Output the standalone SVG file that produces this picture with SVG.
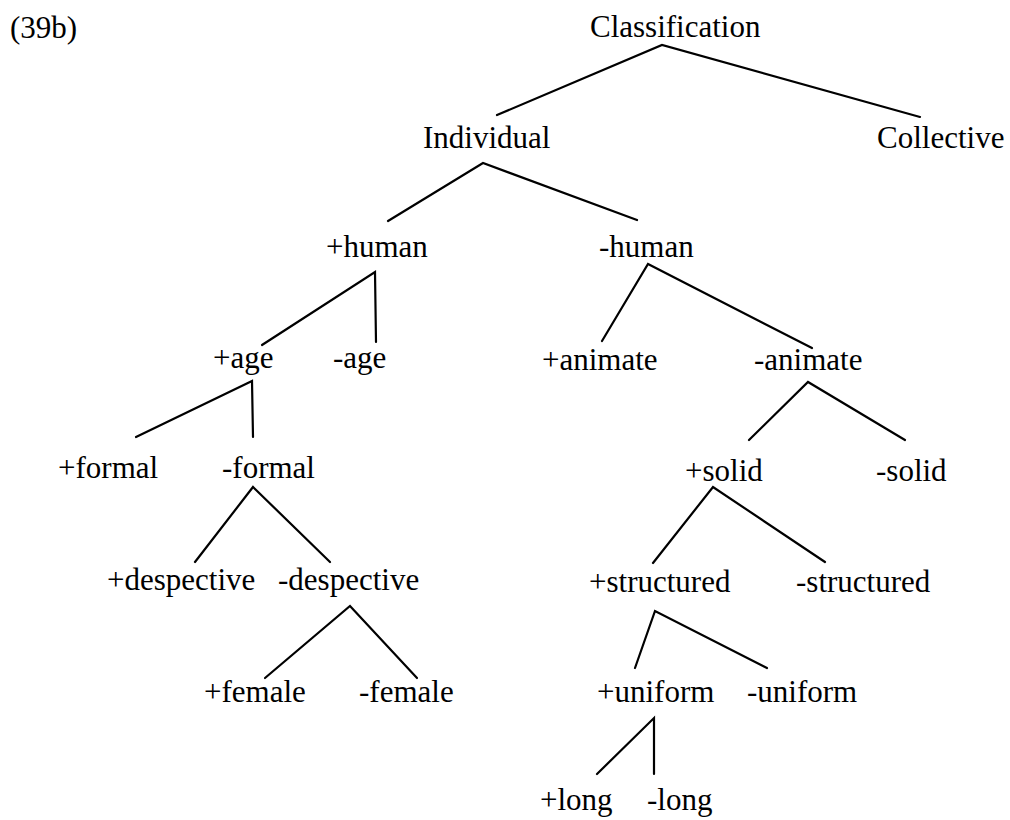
<svg xmlns="http://www.w3.org/2000/svg" width="1010" height="820" viewBox="0 0 1010 820">
  <style>
    .edge { stroke: #000; stroke-width: 2.2; stroke-linecap: round; fill: none; }
  </style>
  <rect width="1010" height="820" fill="#fff"/>

  <g font-family="'Liberation Serif', 'DejaVu Serif', serif" font-size="31" fill="#000">
  <text id="label" x="10" y="38">(39b)</text>

  <g id="connectors">
    <!-- Classification -->
    <path class="edge" d="M497,115 L662,45 L920,117"/>
    <!-- Individual -->
    <path class="edge" d="M388,221 L483,163 L637,220"/>
    <!-- +human -->
    <path class="edge" d="M262,345 L375,272 L376,342"/>
    <!-- +age -->
    <path class="edge" d="M136,437 L252,381 L253,437"/>
    <!-- -formal -->
    <path class="edge" d="M195,562 L253,487 L330,562"/>
    <!-- -despective -->
    <path class="edge" d="M265,678 L350,606 L417,678"/>
    <!-- -human -->
    <path class="edge" d="M602,341 L648,264 L812,348"/>
    <!-- -animate -->
    <path class="edge" d="M749,440 L808,382 L905,440"/>
    <!-- +solid -->
    <path class="edge" d="M653,563 L713,487 L825,562"/>
    <!-- +structured -->
    <path class="edge" d="M635,668 L655,611 L767,668"/>
    <!-- +uniform -->
    <path class="edge" d="M597,774 L654,718 L654,774"/>
  </g>

  <g id="n-classification"><text x="590" y="37">Classification</text></g>
  <g id="n-individual"><text x="423" y="148">Individual</text></g>
  <g id="n-collective"><text x="877" y="148">Collective</text></g>
  <g id="n-plus-human"><text x="326" y="257">+human</text></g>
  <g id="n-minus-human"><text x="599" y="257">-human</text></g>
  <g id="n-plus-age"><text x="213" y="368">+age</text></g>
  <g id="n-minus-age"><text x="333" y="368">-age</text></g>
  <g id="n-plus-animate"><text x="542" y="370">+animate</text></g>
  <g id="n-minus-animate"><text x="754" y="370">-animate</text></g>
  <g id="n-plus-formal"><text x="58" y="478">+formal</text></g>
  <g id="n-minus-formal"><text x="222" y="478">-formal</text></g>
  <g id="n-plus-solid"><text x="685" y="481">+solid</text></g>
  <g id="n-minus-solid"><text x="876" y="481">-solid</text></g>
  <g id="n-plus-despective"><text x="107" y="590">+despective</text></g>
  <g id="n-minus-despective"><text x="278" y="590">-despective</text></g>
  <g id="n-plus-structured"><text x="589" y="592">+structured</text></g>
  <g id="n-minus-structured"><text x="796" y="592">-structured</text></g>
  <g id="n-plus-female"><text x="204" y="702">+female</text></g>
  <g id="n-minus-female"><text x="359" y="702">-female</text></g>
  <g id="n-plus-uniform"><text x="597" y="702">+uniform</text></g>
  <g id="n-minus-uniform"><text x="747" y="702">-uniform</text></g>
  <g id="n-plus-long"><text x="540" y="810">+long</text></g>
  <g id="n-minus-long"><text x="647" y="810">-long</text></g>
  </g>
</svg>
